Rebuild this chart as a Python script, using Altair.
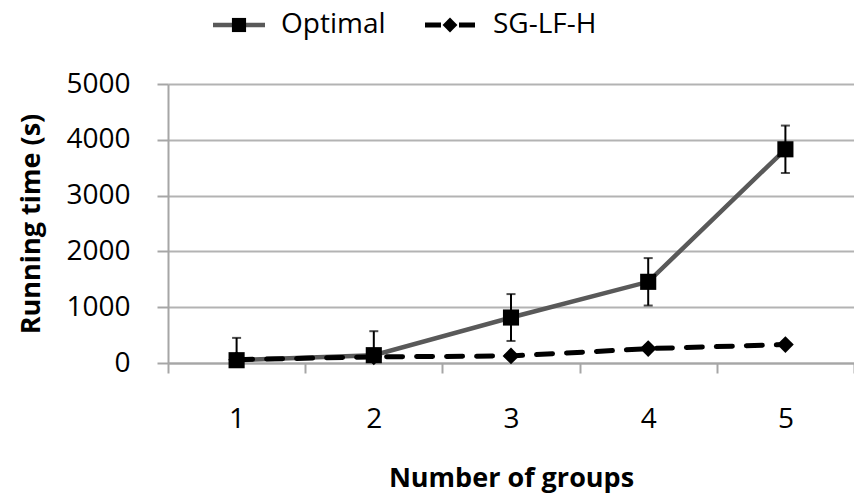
import altair as alt
import pandas as pd

groups = ["1", "2", "3", "4", "5"]
optimal = [50, 140, 815, 1455, 3830]
optimal_err = [400, 430, 420, 425, 425]
sglfh = [60, 110, 126, 258, 330]

FONT = "Open Sans"

df = pd.DataFrame({
    "g": groups,
    "opt": optimal,
    "lo": [v - e for v, e in zip(optimal, optimal_err)],
    "hi": [v + e for v, e in zip(optimal, optimal_err)],
    "sg": sglfh,
})

xscale = alt.Scale(type="band", domain=groups, paddingInner=0, paddingOuter=0)
yscale = alt.Scale(domain=[0, 5000], nice=False)

xaxis = alt.Axis(
    title="Number of groups", titleFont=FONT, titleFontSize=27, titleFontWeight="bold",
    titleColor="black", titlePadding=32,
    labelFont=FONT, labelFontSize=28, labelColor="black", labelPadding=32, labelAngle=0,
    tickBand="extent", tickSize=10, tickColor="#a6a6a6", tickWidth=2,
    domainColor="#a6a6a6", domainWidth=2, grid=False,
)
yaxis = alt.Axis(
    title="Running time (s)", titleFont=FONT, titleFontSize=27, titleFontWeight="bold",
    titleColor="black", titlePadding=20,
    labelFont=FONT, labelFontSize=28, labelColor="black", labelPadding=27,
    values=[0, 1000, 2000, 3000, 4000, 5000], format="d",
    tickSize=11, tickColor="#a6a6a6", tickWidth=2,
    domainColor="#a6a6a6", domainWidth=2,
    grid=True, gridColor="#b3b3b3", gridWidth=2,
)

base = alt.Chart(df)
x = alt.X("g:O", scale=xscale, axis=xaxis)

opt_line = base.mark_line(color="#595959", strokeWidth=4.5).encode(
    x=x, y=alt.Y("opt:Q", scale=yscale, axis=yaxis))
sg_line = base.mark_line(color="black", strokeWidth=5, strokeDash=[16, 14], strokeCap="round").encode(
    x=x, y=alt.Y("sg:Q"))
sg_pts = base.mark_point(shape="diamond", filled=True, color="black", size=280, opacity=1).encode(
    x=x, y="sg:Q")
err = base.mark_rule(color="black", strokeWidth=2, clip=True).encode(
    x=x, y="lo:Q", y2="hi:Q")
cap_hi = base.mark_tick(color="black", thickness=2, size=9, orient="horizontal").encode(
    x=x, y="hi:Q")
cap_lo = base.mark_tick(color="black", thickness=2, size=9, orient="horizontal", clip=True).encode(
    x=x, y="lo:Q")
opt_pts = base.mark_point(shape="square", filled=True, color="black", size=260, opacity=1).encode(
    x=x, y="opt:Q")

# manual legend (above the plot)
leg_y = -59
leg = alt.Chart(pd.DataFrame({"a": [0]}))
l1 = leg.mark_rule(color="#595959", strokeWidth=4.5).encode(
    x=alt.value(45), x2=alt.value(97), y=alt.value(leg_y))
l1p = leg.mark_point(shape="square", filled=True, color="black", size=200, opacity=1).encode(
    x=alt.value(71), y=alt.value(leg_y))
l1t = leg.mark_text(text="Optimal", font=FONT, fontSize=28, align="left", baseline="middle", color="black").encode(
    x=alt.value(113), y=alt.value(leg_y))
l2 = leg.mark_rule(color="black", strokeWidth=5, strokeDash=[16, 18]).encode(
    x=alt.value(257), x2=alt.value(307), y=alt.value(leg_y))
l2p = leg.mark_point(shape="diamond", filled=True, color="black", size=220, opacity=1).encode(
    x=alt.value(282), y=alt.value(leg_y))
l2t = leg.mark_text(text="SG-LF-H", font=FONT, fontSize=28, align="left", baseline="middle", color="black").encode(
    x=alt.value(325), y=alt.value(leg_y))

chart = alt.layer(
    opt_line, sg_line, sg_pts, err, cap_hi, cap_lo, opt_pts,
    l1, l1p, l1t, l2, l2p, l2t,
).properties(
    width=686, height=279,
    autosize=alt.AutoSizeParams(type="none"),
    padding={"left": 168, "top": 84, "right": 0, "bottom": 136},
    background="white",
).configure_view(stroke=None)

chart.save("out.html", embed_options={"renderer": "svg", "actions": False})
